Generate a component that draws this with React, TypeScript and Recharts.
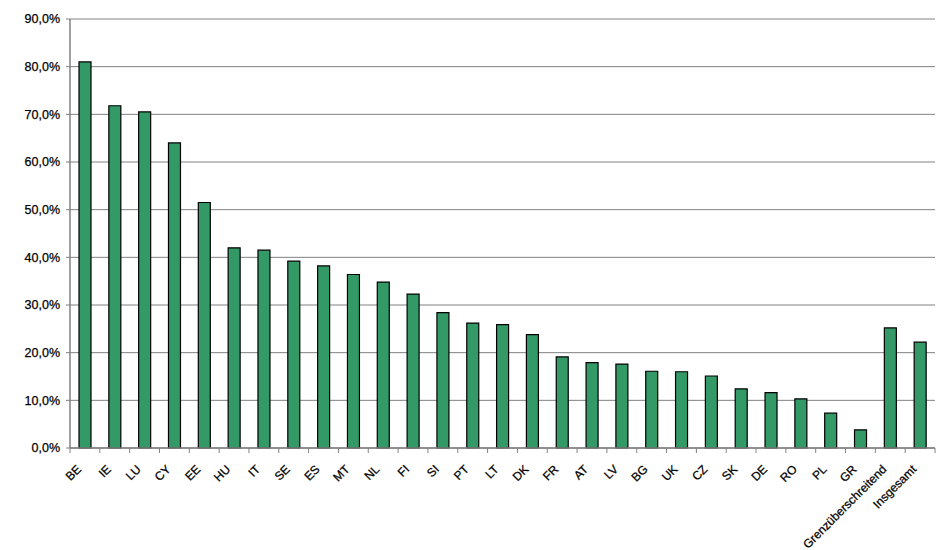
import React from 'react';
import { BarChart, Bar, XAxis, YAxis, CartesianGrid } from 'recharts';

const categories = ['BE','IE','LU','CY','EE','HU','IT','SE','ES','MT','NL','FI','SI','PT','LT','DK','FR','AT','LV','BG','UK','CZ','SK','DE','RO','PL','GR','Grenzüberschreitend','Insgesamt'];
const values = [81.0, 71.8, 70.5, 64.0, 51.5, 42.0, 41.5, 39.2, 38.2, 36.4, 34.8, 32.3, 28.4, 26.2, 25.9, 23.8, 19.1, 17.9, 17.6, 16.1, 16.0, 15.1, 12.4, 11.6, 10.3, 7.3, 3.8, 25.2, 22.2];
const yTicks = [0, 10, 20, 30, 40, 50, 60, 70, 80, 90];

const data = categories.map((c, i) => ({ name: c, value: values[i] }));

const W = 952;
const H = 550;
const LEFT = 70;
const RIGHT = 17;
const STEP = (W - LEFT - RIGHT) / categories.length;
const FONT = "Arial, 'Liberation Sans', sans-serif";

const fmt = (v: number) => v.toFixed(1).replace('.', ',') + '%';

const XTick = (props: any) => {
  const { x, y, payload, index } = props;
  const half = STEP / 2;
  const isLast = index === categories.length - 1;
  const tx = x - 3;
  const ty = y + 22;
  return (
    <g>
      <line x1={x - half} y1={y} x2={x - half} y2={y + 5} stroke="#808080" strokeWidth={1} />
      {isLast && <line x1={x + half} y1={y} x2={x + half} y2={y + 5} stroke="#808080" strokeWidth={1} />}
      <text
        x={tx}
        y={ty}
        textAnchor="end"
        fontSize={12}
        fontFamily={FONT}
        fill="#000"
        stroke="#000"
        strokeWidth={0.25}
        transform={`rotate(-45, ${tx}, ${ty})`}
      >
        {payload.value}
      </text>
    </g>
  );
};

export default function App() {
  return (
    <div style={{ position: 'absolute', left: 0, top: 0, width: W, height: H, background: '#fff' }}>
      <BarChart width={W} height={H} data={data} margin={{ top: 19, right: RIGHT, bottom: 0, left: 0 }}>
        <CartesianGrid vertical={false} stroke="#808080" strokeWidth={1} yAxisId="l" />
        <XAxis
          dataKey="name"
          interval={0}
          height={102}
          tickSize={0}
          tickMargin={0}
          tickLine={false}
          axisLine={{ stroke: '#808080', strokeWidth: 1.5 }}
          tick={<XTick />}
        />
        <YAxis
          yAxisId="l"
          width={LEFT}
          domain={[0, 90]}
          ticks={yTicks}
          interval={0}
          tickFormatter={fmt}
          tickSize={4}
          tickMargin={6}
          tickLine={{ stroke: '#808080' }}
          axisLine={{ stroke: '#808080', strokeWidth: 1.5 }}
          tick={{ fontSize: 12.5, fill: '#000', stroke: '#000', strokeWidth: 0.25, fontFamily: FONT }}
        />
        <YAxis
          yAxisId="r"
          orientation="right"
          width={0}
          domain={[0, 90]}
          ticks={yTicks}
          tick={false}
          tickLine={false}
          axisLine={{ stroke: '#808080', strokeWidth: 1.5 }}
        />
        <Bar
          yAxisId="l"
          dataKey="value"
          fill="#339966"
          stroke="#000"
          strokeWidth={1.2}
          barSize={12}
          isAnimationActive={false}
        />
      </BarChart>
    </div>
  );
}
